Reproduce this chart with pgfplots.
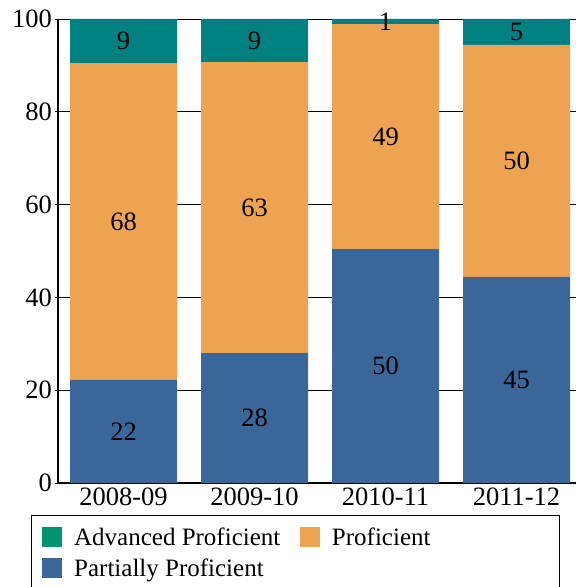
\documentclass[border=0pt]{standalone}
\usepackage{pgfplots}
\pgfplotsset{compat=1.18}
\usepackage{pgfplotstable}
\usepackage{fontspec}
\setmainfont{Liberation Serif}

\definecolor{advbar}{RGB}{0,128,128}
\definecolor{advleg}{RGB}{0,148,115}
\definecolor{prof}{RGB}{238,163,82}
\definecolor{part}{RGB}{58,102,153}

% segment heights, stacked bottom to top
\pgfplotstableread{
x part prof adv
0 22.2 68.3 9.5
1 28.0 62.7 9.3
2 50.4 48.5 1.1
3 44.4 50.0 5.6
}\bars

% label positions (segment middles) and printed values
\pgfplotstableread{
x y lab
0 11.1 22
0 56.35 68
0 95.25 9
1 14.0 28
1 59.35 63
1 95.35 9
2 25.2 50
2 74.65 49
2 99.45 1
3 22.2 45
3 69.4 50
3 97.2 5
}\labels

\begin{document}
\begin{tikzpicture}[font=\fontsize{26.5}{31}\selectfont]
\pgfplotsset{base/.style={
    scale only axis, width=518pt, height=464pt,
    at={(58pt,104pt)}, anchor=south west,
    xmin=-0.5, xmax=3.454, ymin=0, ymax=100}}
\begin{axis}[base,
    ybar stacked, bar width=107pt,
    axis x line*=bottom, axis y line*=left,
    axis line style={-, black, line width=1.6pt},
    xtick={0,1,2,3},
    xticklabels={2008-09,2009-10,2010-11,2011-12},
    x tick style={draw=none},
    ytick={0,20,40,60,80,100},
    y tick style={black, line width=0.8pt},
    tick align=outside, major tick length=3pt,
    ymajorgrids, grid style={black, line width=0.8pt},
    /pgf/number format/assume math mode=true,
    tick label style={font=\fontsize{26.5}{31}\selectfont},
    yticklabel style={inner xsep=3pt},
    xticklabel style={inner ysep=2pt},
    legend columns=2,
    legend cell align=left,
    legend style={at={(axis description cs:0,0)}, xshift=-27pt, yshift=-32pt,
        anchor=north west, draw=black, line width=0.8pt,
        inner xsep=11pt, inner ysep=10pt, row sep=8pt,
        font=\fontsize{25}{30}\selectfont,
        nodes={inner sep=2pt},
        /tikz/every even column/.append style={column sep=0pt}},
]
\addlegendimage{legend image code/.code={\fill[advleg] (0pt,-9.5pt) rectangle (19pt,9.5pt);}}
\addlegendentry{\makebox[234pt][l]{\hspace{10pt}Advanced Proficient}}
\addlegendimage{legend image code/.code={\fill[prof] (0pt,-9.5pt) rectangle (19pt,9.5pt);}}
\addlegendentry{\makebox[224pt][l]{\hspace{10pt}Proficient}}
\addlegendimage{legend image code/.code={\fill[part] (0pt,-9.5pt) rectangle (19pt,9.5pt);}}
\addlegendentry{\makebox[234pt][l]{\hspace{10pt}Partially Proficient}}

\addplot[fill=part, draw=none] table[x=x, y=part] {\bars};
\addplot[fill=prof, draw=none] table[x=x, y=prof] {\bars};
\addplot[fill=advbar, draw=none] table[x=x, y=adv] {\bars};
\end{axis}

\begin{axis}[base, hide axis]
\addplot[draw=none, nodes near coords, point meta=explicit symbolic,
    nodes near coords style={anchor=center, font=\fontsize{26.5}{31}\selectfont}]
    table[x=x, y=y, meta=lab] {\labels};
\end{axis}
\pgfresetboundingbox
\path[use as bounding box] (0,0) rectangle (576pt,587pt);
\end{tikzpicture}
\end{document}
